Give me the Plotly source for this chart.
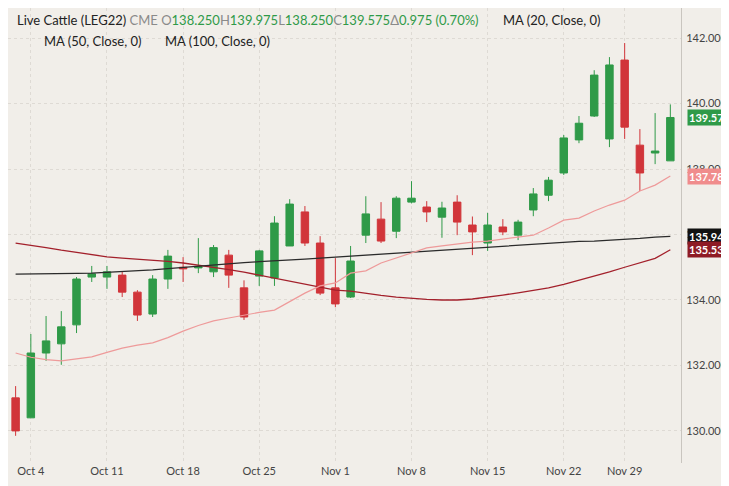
import plotly.graph_objects as go

dates = ["Oct 1", "Oct 4", "Oct 5", "Oct 6", "Oct 7", "Oct 8", "Oct 11", "Oct 12", "Oct 13", "Oct 14", "Oct 15",
         "Oct 18", "Oct 19", "Oct 20", "Oct 21", "Oct 22", "Oct 25", "Oct 26", "Oct 27", "Oct 28", "Oct 29",
         "Nov 1", "Nov 2", "Nov 3", "Nov 4", "Nov 5", "Nov 8", "Nov 9", "Nov 10", "Nov 11", "Nov 12",
         "Nov 15", "Nov 16", "Nov 17", "Nov 18", "Nov 19", "Nov 22", "Nov 23", "Nov 24", "Nov 26",
         "Nov 29", "Nov 30", "Dec 1", "Dec 2"]
opens = [131.01, 130.40, 132.38, 132.66, 133.24, 134.70, 134.70, 134.76, 134.24, 133.57, 134.64,
         135.00, 134.98, 134.86, 135.37, 134.37, 134.73, 134.67, 135.65, 136.69, 135.74,
         134.37, 134.09, 135.98, 136.47, 136.10, 136.99, 136.84, 136.53, 136.99, 136.29,
         135.74, 136.23, 135.98, 136.75, 137.20, 137.88, 138.89, 139.62, 138.92,
         141.33, 138.73, 138.49, 138.25]
highs = [131.37, 132.96, 133.51, 133.66, 134.70, 135.04, 135.04, 134.88, 134.30, 134.76, 135.53,
         135.31, 135.89, 135.68, 135.53, 134.60, 135.53, 136.56, 137.08, 136.87, 135.95,
         135.28, 135.65, 137.17, 136.99, 137.17, 137.63, 137.02, 137.00, 137.20, 136.55,
         136.66, 136.47, 136.45, 137.42, 137.76, 139.04, 139.62, 141.02, 141.42,
         141.85, 139.22, 139.71, 139.975]
lows = [129.85, 130.40, 132.14, 132.02, 132.99, 134.55, 134.34, 134.09, 133.36, 133.48, 134.34,
        134.55, 134.82, 134.70, 134.37, 133.39, 134.43, 134.43, 136.10, 135.65, 134.15,
        133.78, 134.06, 135.74, 135.74, 135.89, 136.95, 136.38, 135.90, 135.98, 135.37,
        135.50, 135.98, 135.83, 136.56, 137.02, 137.82, 138.79, 139.59, 138.67,
        138.92, 137.33, 138.15, 138.25]
closes = [130.00, 132.38, 132.75, 133.18, 134.64, 134.80, 134.86, 134.24, 133.54, 134.64, 135.34,
          134.95, 135.02, 135.60, 134.76, 133.48, 135.50, 136.35, 136.93, 135.74, 134.21,
          133.88, 135.19, 136.63, 135.80, 137.11, 137.11, 136.69, 136.81, 136.38, 136.08,
          136.29, 136.08, 136.38, 137.24, 137.66, 138.95, 139.40, 140.87, 141.18,
          139.28, 137.88, 138.55, 139.575]

ma20 = [132.38, 132.25, 132.18, 132.14, 132.20, 132.26, 132.40, 132.53, 132.62, 132.69, 132.85,
        133.05, 133.22, 133.36, 133.45, 133.54, 133.62, 133.69, 133.95, 134.21, 134.43,
        134.52, 134.82, 134.89, 135.13, 135.28, 135.44, 135.59, 135.65, 135.71, 135.77,
        135.80, 135.86, 135.92, 135.98, 136.20, 136.44, 136.50, 136.72, 136.90,
        137.05, 137.33, 137.51, 137.787]
ma50 = [134.79, 134.79, 134.79, 134.80, 134.81, 134.82, 134.84, 134.87, 134.90, 134.92, 134.96,
        135.00, 135.04, 135.07, 135.10, 135.14, 135.17, 135.19, 135.22, 135.25, 135.28,
        135.31, 135.34, 135.37, 135.40, 135.43, 135.46, 135.49, 135.52, 135.55, 135.58,
        135.62, 135.65, 135.68, 135.71, 135.74, 135.77, 135.79, 135.80, 135.82,
        135.84, 135.88, 135.92, 135.944]
ma100 = [135.74, 135.68, 135.60, 135.52, 135.45, 135.37, 135.32, 135.28, 135.25, 135.22, 135.18,
         135.13, 135.07, 135.00, 134.93, 134.85, 134.76, 134.67, 134.58, 134.48, 134.39,
         134.30, 134.27, 134.20, 134.14, 134.09, 134.05, 134.02, 134.00, 134.00, 134.03,
         134.08, 134.15, 134.22, 134.30, 134.37, 134.48, 134.60, 134.73, 134.86,
         135.00, 135.13, 135.27, 135.534]

tick_dates = ["Oct 4", "Oct 11", "Oct 18", "Oct 25", "Nov 1", "Nov 8", "Nov 15", "Nov 22", "Nov 29"]
y_ticks = [130, 132, 134, 136, 138, 140, 142]

green = "#2f9a48"
red = "#d1353a"

fig = go.Figure()
fig.add_trace(go.Scatter(x=dates, y=ma100, mode="lines", line=dict(color="#a3202b", width=1.3)))
fig.add_trace(go.Scatter(x=dates, y=ma50, mode="lines", line=dict(color="#2b2b2b", width=1.3)))
fig.add_trace(go.Scatter(x=dates, y=ma20, mode="lines", line=dict(color="#ee9a9a", width=1.2)))
fig.add_trace(go.Candlestick(
    x=dates, open=opens, high=highs, low=lows, close=closes,
    increasing=dict(line=dict(color=green, width=1), fillcolor=green),
    decreasing=dict(line=dict(color=red, width=1), fillcolor=red),
    whiskerwidth=0,
))

# price tags on the right
tags = [(closes[-1], "#2f9a48", "white"), (ma20[-1], "#f08c8c", "white"),
        (ma50[-1], "#111111", "white"), (ma100[-1], "#8e1b24", "white")]
for val, bg, fg in tags:
    fig.add_annotation(x=1, xref="paper", y=val, yref="y", text=f"<b>{val:.3f}</b>",
                       showarrow=False, xanchor="left", xshift=6, bgcolor=bg,
                       font=dict(color=fg, size=11, family="Lato"), borderpad=1)

grey = "#8a8a8a"
fig.add_annotation(
    x=0.011, y=0.995, xref="paper", yref="paper", xanchor="left", yanchor="top", showarrow=False,
    text=(f"Live Cattle (LEG22) <span style='color:{grey}'>CME</span> "
          f"<span style='color:{grey}'>O</span><span style='color:{green}'>138.250</span>"
          f"<span style='color:{grey}'>H</span><span style='color:{green}'>139.975</span>"
          f"<span style='color:{grey}'>L</span><span style='color:{green}'>138.250</span>"
          f"<span style='color:{grey}'>C</span><span style='color:{green}'>139.575</span>"
          f"<span style='color:{grey}'>Δ</span><span style='color:{green}'>0.975 (0.70%)</span>"),
    font=dict(size=13, family="Lato", color="#222"))
fig.add_annotation(x=0.733, y=0.995, xref="paper", yref="paper", xanchor="left", yanchor="top",
                   showarrow=False, text="MA (20, Close, 0)", font=dict(size=13, family="Lato", color="#222"))
fig.add_annotation(x=0.05, y=0.95, xref="paper", yref="paper", xanchor="left", yanchor="top",
                   showarrow=False, text="MA (50, Close, 0)", font=dict(size=13, family="Lato", color="#222"))
fig.add_annotation(x=0.23, y=0.95, xref="paper", yref="paper", xanchor="left", yanchor="top",
                   showarrow=False, text="MA (100, Close, 0)", font=dict(size=13, family="Lato", color="#222"))

fig.update_layout(
    width=729, height=486, showlegend=False,
    paper_bgcolor="#f1eee9", plot_bgcolor="#f1eee9",
    margin=dict(l=0, r=56, t=0, b=31),
    font=dict(family="Lato", size=11, color="#444"),
)
fig.update_xaxes(type="category", categoryorder="array", categoryarray=dates,
                 range=[-0.5, 43.7], rangeslider_visible=False,
                 tickvals=tick_dates, ticktext=tick_dates, ticks="",
                 showgrid=True, gridcolor="#dedad4", griddash="dot", zeroline=False,
                 showline=False)
fig.update_yaxes(side="right", range=[129.02, 142.92], tickvals=y_ticks,
                 ticktext=[f"{v:.3f}" for v in y_ticks], ticklabelstandoff=2,
                 showgrid=True, gridcolor="#dedad4", griddash="dot", zeroline=False,
                 showline=True, linecolor="#c9c5bf", ticklabelposition="outside")

fig.write_html("out.html")
